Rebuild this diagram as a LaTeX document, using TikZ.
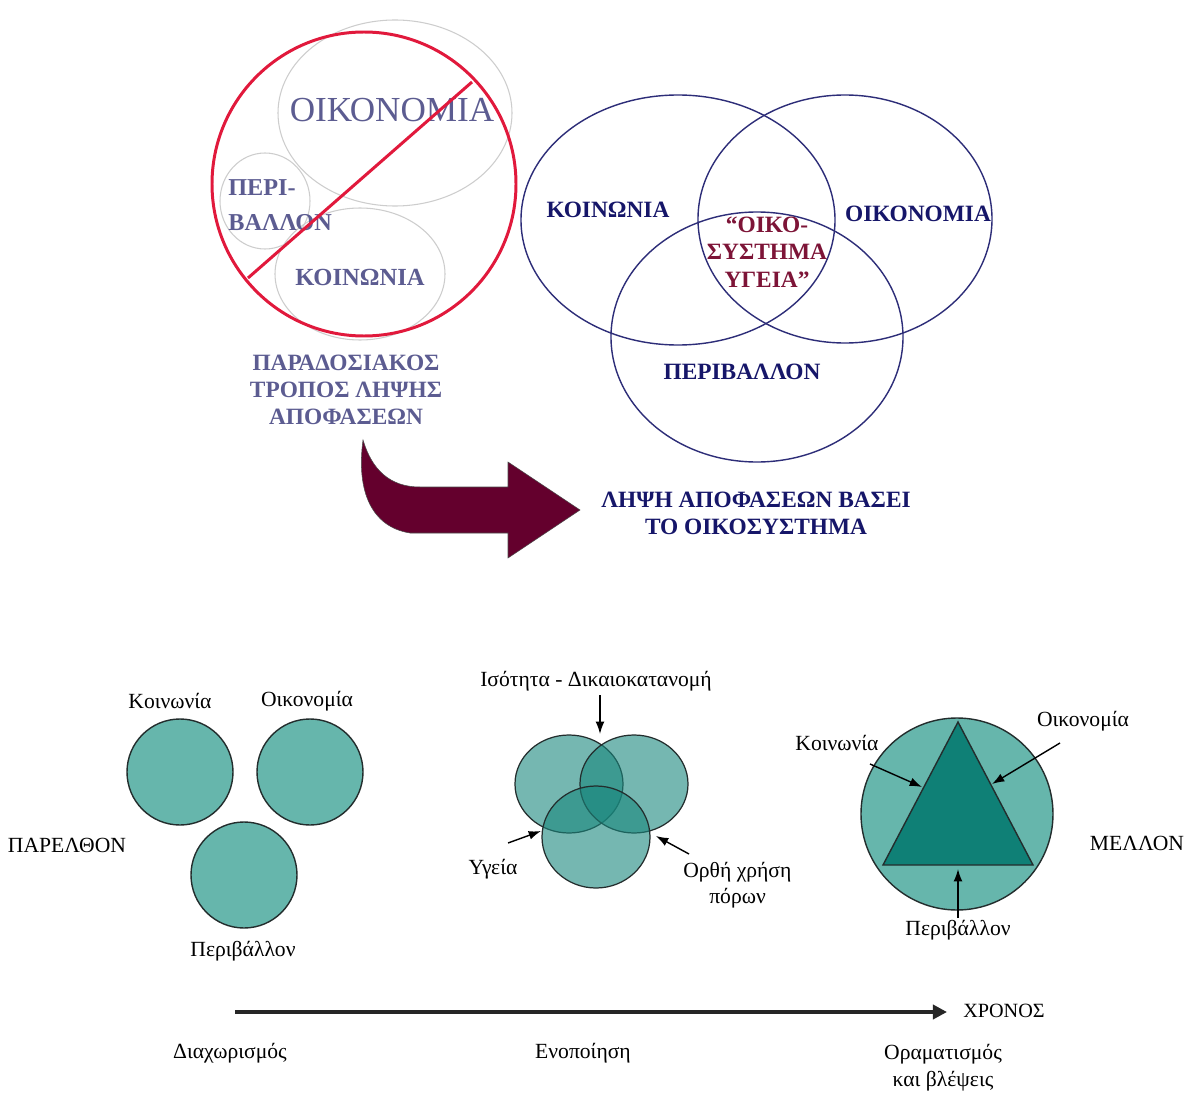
\documentclass[tikz,border=0pt]{standalone}
\usepackage{fontspec}
\setmainfont{Liberation Serif}
\usetikzlibrary{arrows.meta}
\definecolor{slatetxt}{RGB}{92,92,145}
\definecolor{ghostline}{RGB}{205,205,205}
\definecolor{stopred}{RGB}{225,25,60}
\definecolor{navytxt}{RGB}{22,22,105}
\definecolor{navyline}{RGB}{45,45,120}
\definecolor{winetxt}{RGB}{125,20,55}
\definecolor{winefill}{RGB}{100,0,45}
\definecolor{tealfill}{RGB}{102,182,172}
\definecolor{tealdeep}{RGB}{25,135,125}
\definecolor{tealtri}{RGB}{15,128,118}
\definecolor{rimline}{RGB}{35,45,45}
\begin{document}
\begin{tikzpicture}[x=0.02cm,y=-0.02cm,
  ghost/.style={draw=ghostline,line width=0.6pt},
  capsbold/.style={font=\fontsize{13.3}{15.4}\selectfont\bfseries,inner sep=0pt,align=center},
  plainlbl/.style={font=\fontsize{12.3}{14.8}\selectfont,inner sep=0pt},
  setring/.style={draw=navyline,line width=0.8pt},
  disc/.style={draw=rimline,line width=0.8pt,fill=tealfill},
  vennpart/.style={draw=rimline,line width=0.7pt,fill=tealdeep,fill opacity=0.6},
  pointer/.style={draw=black,line width=0.8pt,-{Latex[length=7pt,width=5pt]}},
]
\useasboundingbox (0,0) rectangle (1184,1095);
\fill[white] (0,0) rectangle (1184,1095);

% ---------- traditional decision making (crossed out) ----------
\draw[ghost] (395,113) ellipse [x radius=117, y radius=93];
\draw[ghost] (265,201) ellipse [x radius=45, y radius=48];
\draw[ghost] (360,274) ellipse [x radius=85, y radius=66];
\node[font=\fontsize{20}{24}\selectfont,text=slatetxt,inner sep=0pt] (oldeco) at (392,110) {ΟΙΚΟΝΟΜΙΑ};
\node[capsbold,text=slatetxt,align=left,anchor=west,font=\fontsize{13.8}{20}\selectfont\bfseries] (oldenv) at (228,205) {ΠΕΡΙ-\\ΒΑΛΛΟΝ};
\node[capsbold,text=slatetxt,font=\fontsize{14}{16}\selectfont\bfseries] (oldsoc) at (360,277) {ΚΟΙΝΩΝΙΑ};
\node[draw=stopred,line width=1.7pt,circle,minimum size=304*0.02cm,inner sep=0pt] (stop) at (364,184) {};
\coordinate (barA) at (248,278);
\coordinate (barB) at (472,82);
\draw[stopred,line width=1.7pt] (barA) -- (barB);
\node[capsbold,text=slatetxt] (oldway) at (346,390) {ΠΑΡΑΔΟΣΙΑΚΟΣ\\ΤΡΟΠΟΣ ΛΗΨΗΣ\\ΑΠΟΦΑΣΕΩΝ};

% ---------- ecosystem based decision making ----------
\draw[setring] (678,220) ellipse [x radius=157, y radius=125];
\draw[setring] (845,219) ellipse [x radius=147, y radius=124];
\draw[setring] (757,337) ellipse [x radius=146, y radius=125];
\node[capsbold,text=navytxt] (soc) at (608,210) {ΚΟΙΝΩΝΙΑ};
\node[capsbold,text=navytxt] (eco) at (918,214) {ΟΙΚΟΝΟΜΙΑ};
\node[capsbold,text=navytxt] (env) at (742,372) {ΠΕΡΙΒΑΛΛΟΝ};
\node[capsbold,text=winetxt,font=\fontsize{13.3}{15.6}\selectfont\bfseries] (health) at (767,252) {“ΟΙΚΟ-\\ΣΥΣΤΗΜΑ\\ΥΓΕΙΑ”};

% ---------- transition arrow ----------
\fill[winefill,draw=black!70,line width=0.3pt]
  (363,440) .. controls (372,470) and (390,487) .. (420,487) -- (508,487) -- (508,462)
  -- (580,510) -- (508,558) -- (508,533) -- (410,533)
  .. controls (372,527) and (356,492) .. (363,440) -- cycle;
\node[capsbold,text=navytxt] (newway) at (756,513) {ΛΗΨΗ ΑΠΟΦΑΣΕΩΝ ΒΑΣΕΙ\\ΤΟ ΟΙΚΟΣΥΣΤΗΜΑ};

% ---------- past: separated spheres ----------
\node[disc,circle,minimum size=106*0.02cm,inner sep=0pt] (pastsoc) at (180,772) {};
\node[disc,circle,minimum size=106*0.02cm,inner sep=0pt] (pasteco) at (310,772) {};
\node[disc,circle,minimum size=106*0.02cm,inner sep=0pt] (pastenv) at (244,875) {};
\node[plainlbl] (lsoc) at (170,701) {Κοινωνία};
\node[plainlbl] (leco) at (307,701) {Οικονομία};
\node[plainlbl] (lenv) at (243,951) {Περιβάλλον};
\node[plainlbl] (past) at (67,845) {ΠΑΡΕΛΘΟΝ};

% ---------- integration: overlapping spheres ----------
\draw[vennpart] (569,784) ellipse [x radius=54, y radius=49];
\draw[vennpart] (634,784) ellipse [x radius=54, y radius=49];
\draw[vennpart] (596,837) ellipse [x radius=54, y radius=51];
\node[plainlbl] (equity) at (596,681) {Ισότητα - Δικαιοκατανομή};
\node[plainlbl] (hlth) at (493,869) {Υγεία};
\node[plainlbl,align=left,anchor=west,font=\fontsize{12.3}{14.8}\selectfont] (use) at (683,885) {Ορθή χρήση\\\hspace*{1.2em}πόρων};
\coordinate (equityTip) at (600,734);
\coordinate (hlthTip) at (541,831);
\coordinate (useTip) at (656,836);
\draw[pointer] (equity.south -| equityTip) ++(0,4) coordinate (eqS) -- (equityTip);
\coordinate (hlthTail) at (508,843);
\draw[pointer] (hlthTail) -- (hlthTip);
\coordinate (useTail) at (689,854);
\draw[pointer] (useTail) -- (useTip);

% ---------- future: unified vision ----------
\node[disc,circle,minimum size=192*0.02cm,inner sep=0pt] (whole) at (957,814) {};
\coordinate (apex) at (958,722);
\coordinate (baseL) at (883,865);
\coordinate (baseR) at (1033,865);
\fill[tealtri,draw=rimline,line width=0.8pt] (apex) -- (baseR) -- (baseL) -- cycle;
\node[plainlbl] (fsoc) at (837,743) {Κοινωνία};
\node[plainlbl] (feco) at (1083,721) {Οικονομία};
\node[plainlbl] (fenv) at (958,930) {Περιβάλλον};
\node[plainlbl] (future) at (1137,843) {ΜΕΛΛΟΝ};
\coordinate (fsocTail) at (870,764);
\coordinate (fsocTip) at (922,787);
\coordinate (fecoTail) at (1060,743);
\coordinate (fecoTip) at (992,784);
\coordinate (fenvTail) at (958,918);
\coordinate (fenvTip) at (958,869);
\draw[pointer] (fsocTail) -- (fsocTip);
\draw[pointer] (fecoTail) -- (fecoTip);
\draw[pointer] (fenvTail) -- (fenvTip);

% ---------- time axis ----------
\coordinate (t0) at (235,1012);
\coordinate (t1) at (947,1012);
\draw[line width=2.6pt,draw=black!85,-{Triangle[length=8pt,width=8pt]}] (t0) -- (t1);
\node[plainlbl,font=\fontsize{11.5}{14}\selectfont] (time) at (1004,1011) {ΧΡΟΝΟΣ};
\node[plainlbl] (sep) at (230,1053) {Διαχωρισμός};
\node[plainlbl] (unify) at (583,1053) {Ενοποίηση};
\node[plainlbl,align=center,font=\fontsize{12.3}{15.4}\selectfont] (vision) at (943,1068) {Οραματισμός\\και βλέψεις};
\end{tikzpicture}
\end{document}
